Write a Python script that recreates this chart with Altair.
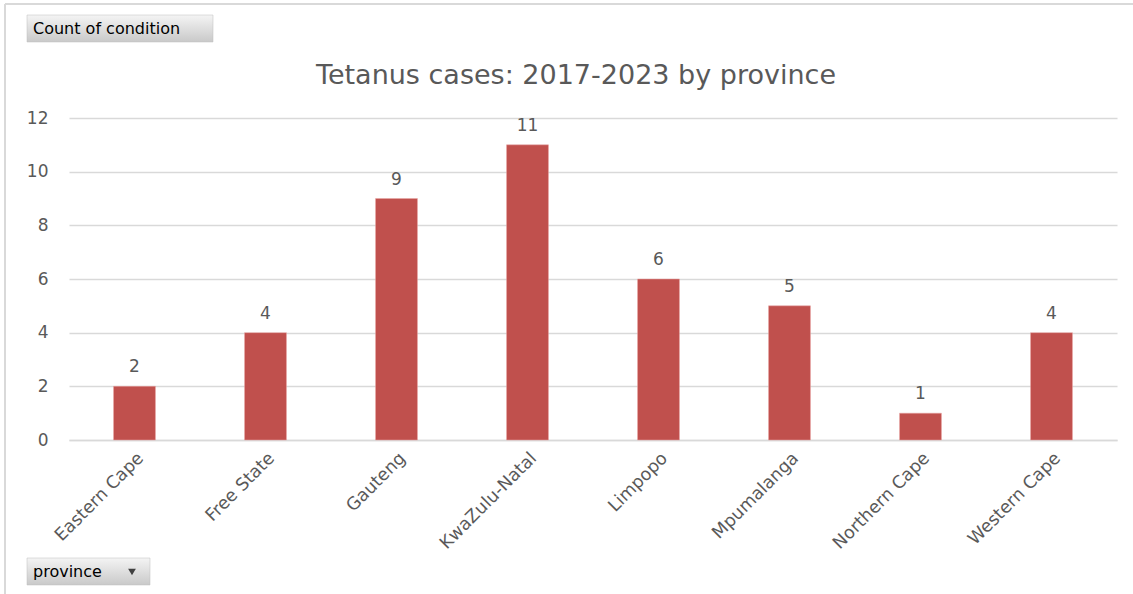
import altair as alt
import pandas as pd

provinces = ["Eastern Cape", "Free State", "Gauteng", "KwaZulu-Natal",
             "Limpopo", "Mpumalanga", "Northern Cape", "Western Cape"]
counts = [2, 4, 9, 11, 6, 5, 1, 4]
y_ticks = [0, 2, 4, 6, 8, 10, 12]
title_text = "Tetanus cases: 2017-2023 by province"
value_button = "Count of condition"
axis_button = "province"

df = pd.DataFrame({"province": provinces, "count": counts})

FONT = "DejaVu Sans"
GRAY = "#595959"
W, H = 1048, 322

x_enc = alt.X("province:N", sort=provinces,
              scale=alt.Scale(paddingInner=0.68, paddingOuter=0.34),
              axis=alt.Axis(title=None, labelAngle=-45, labelFontSize=17.5,
                            labelColor=GRAY, labelFont=FONT, ticks=False,
                            labelPadding=9, domainColor="#D9D9D9", domainWidth=1.5))
y_enc = alt.Y("count:Q", scale=alt.Scale(domain=[0, 12], nice=False),
              axis=alt.Axis(title=None, values=y_ticks, labelFontSize=17,
                            labelColor=GRAY, labelFont=FONT, ticks=False,
                            labelPadding=21, domain=False, gridColor="#D9D9D9",
                            gridWidth=1.5))

bars = alt.Chart(df).mark_bar(color="#C0504D", stroke="#E8A7A5", strokeWidth=0.5).encode(
    x=x_enc, y=y_enc)
labels = alt.Chart(df).mark_text(baseline="alphabetic", dy=-14, fontSize=17,
                                 color=GRAY, font=FONT).encode(
    x=alt.X("province:N", sort=provinces), y="count:Q", text="count:Q")

one = alt.Data(values=[{"t": 1}])
grad = alt.Gradient(gradient="linear", x1=0, y1=0, x2=0, y2=1,
                    stops=[alt.GradientStop(color="#F4F4F4", offset=0),
                           alt.GradientStop(color="#C9C9C9", offset=1)])

title = alt.Chart(one).mark_text(fontSize=27, color=GRAY, font=FONT, baseline="middle",
                                 align="center", text=title_text).encode(
    x=alt.value(507), y=alt.value(-42))

btn1 = alt.Chart(one).mark_rect(color=grad, stroke="#BFBFBF", strokeWidth=0.5).encode(
    x=alt.value(-42), x2=alt.value(144), y=alt.value(-103), y2=alt.value(-76))
btn1t = alt.Chart(one).mark_text(fontSize=16, color="#000000", font=FONT, align="left",
                                 baseline="middle", text=value_button).encode(
    x=alt.value(-36), y=alt.value(-89))
btn2 = alt.Chart(one).mark_rect(color=grad, stroke="#BFBFBF", strokeWidth=0.5).encode(
    x=alt.value(-42), x2=alt.value(81), y=alt.value(440), y2=alt.value(467))
btn2t = alt.Chart(one).mark_text(fontSize=16, color="#000000", font=FONT, align="left",
                                 baseline="middle", text=axis_button).encode(
    x=alt.value(-36), y=alt.value(454))
arrow = alt.Chart(one).mark_point(shape="triangle-down", filled=True, color="#404040",
                                  size=60, opacity=1).encode(
    x=alt.value(63), y=alt.value(454))

border_v = alt.Chart(one).mark_rule(color="#D9D9D9", strokeWidth=2).encode(
    x=alt.value(-64), y=alt.value(-114), y2=alt.value(476))
border_h = alt.Chart(one).mark_rule(color="#D9D9D9", strokeWidth=2).encode(
    x=alt.value(-64), x2=alt.value(1064), y=alt.value(-114))

chart = alt.layer(bars, labels, title, btn1, btn1t, btn2, btn2t, arrow,
                  border_v, border_h).properties(
    width=W, height=H,
    background="white",
    autosize=alt.AutoSizeParams(type="none"),
    padding={"left": 69, "top": 118, "right": 16, "bottom": 154},
).configure_view(strokeWidth=0, stroke="transparent")

chart.save("out.html", embed_options={"renderer": "svg", "actions": False})
